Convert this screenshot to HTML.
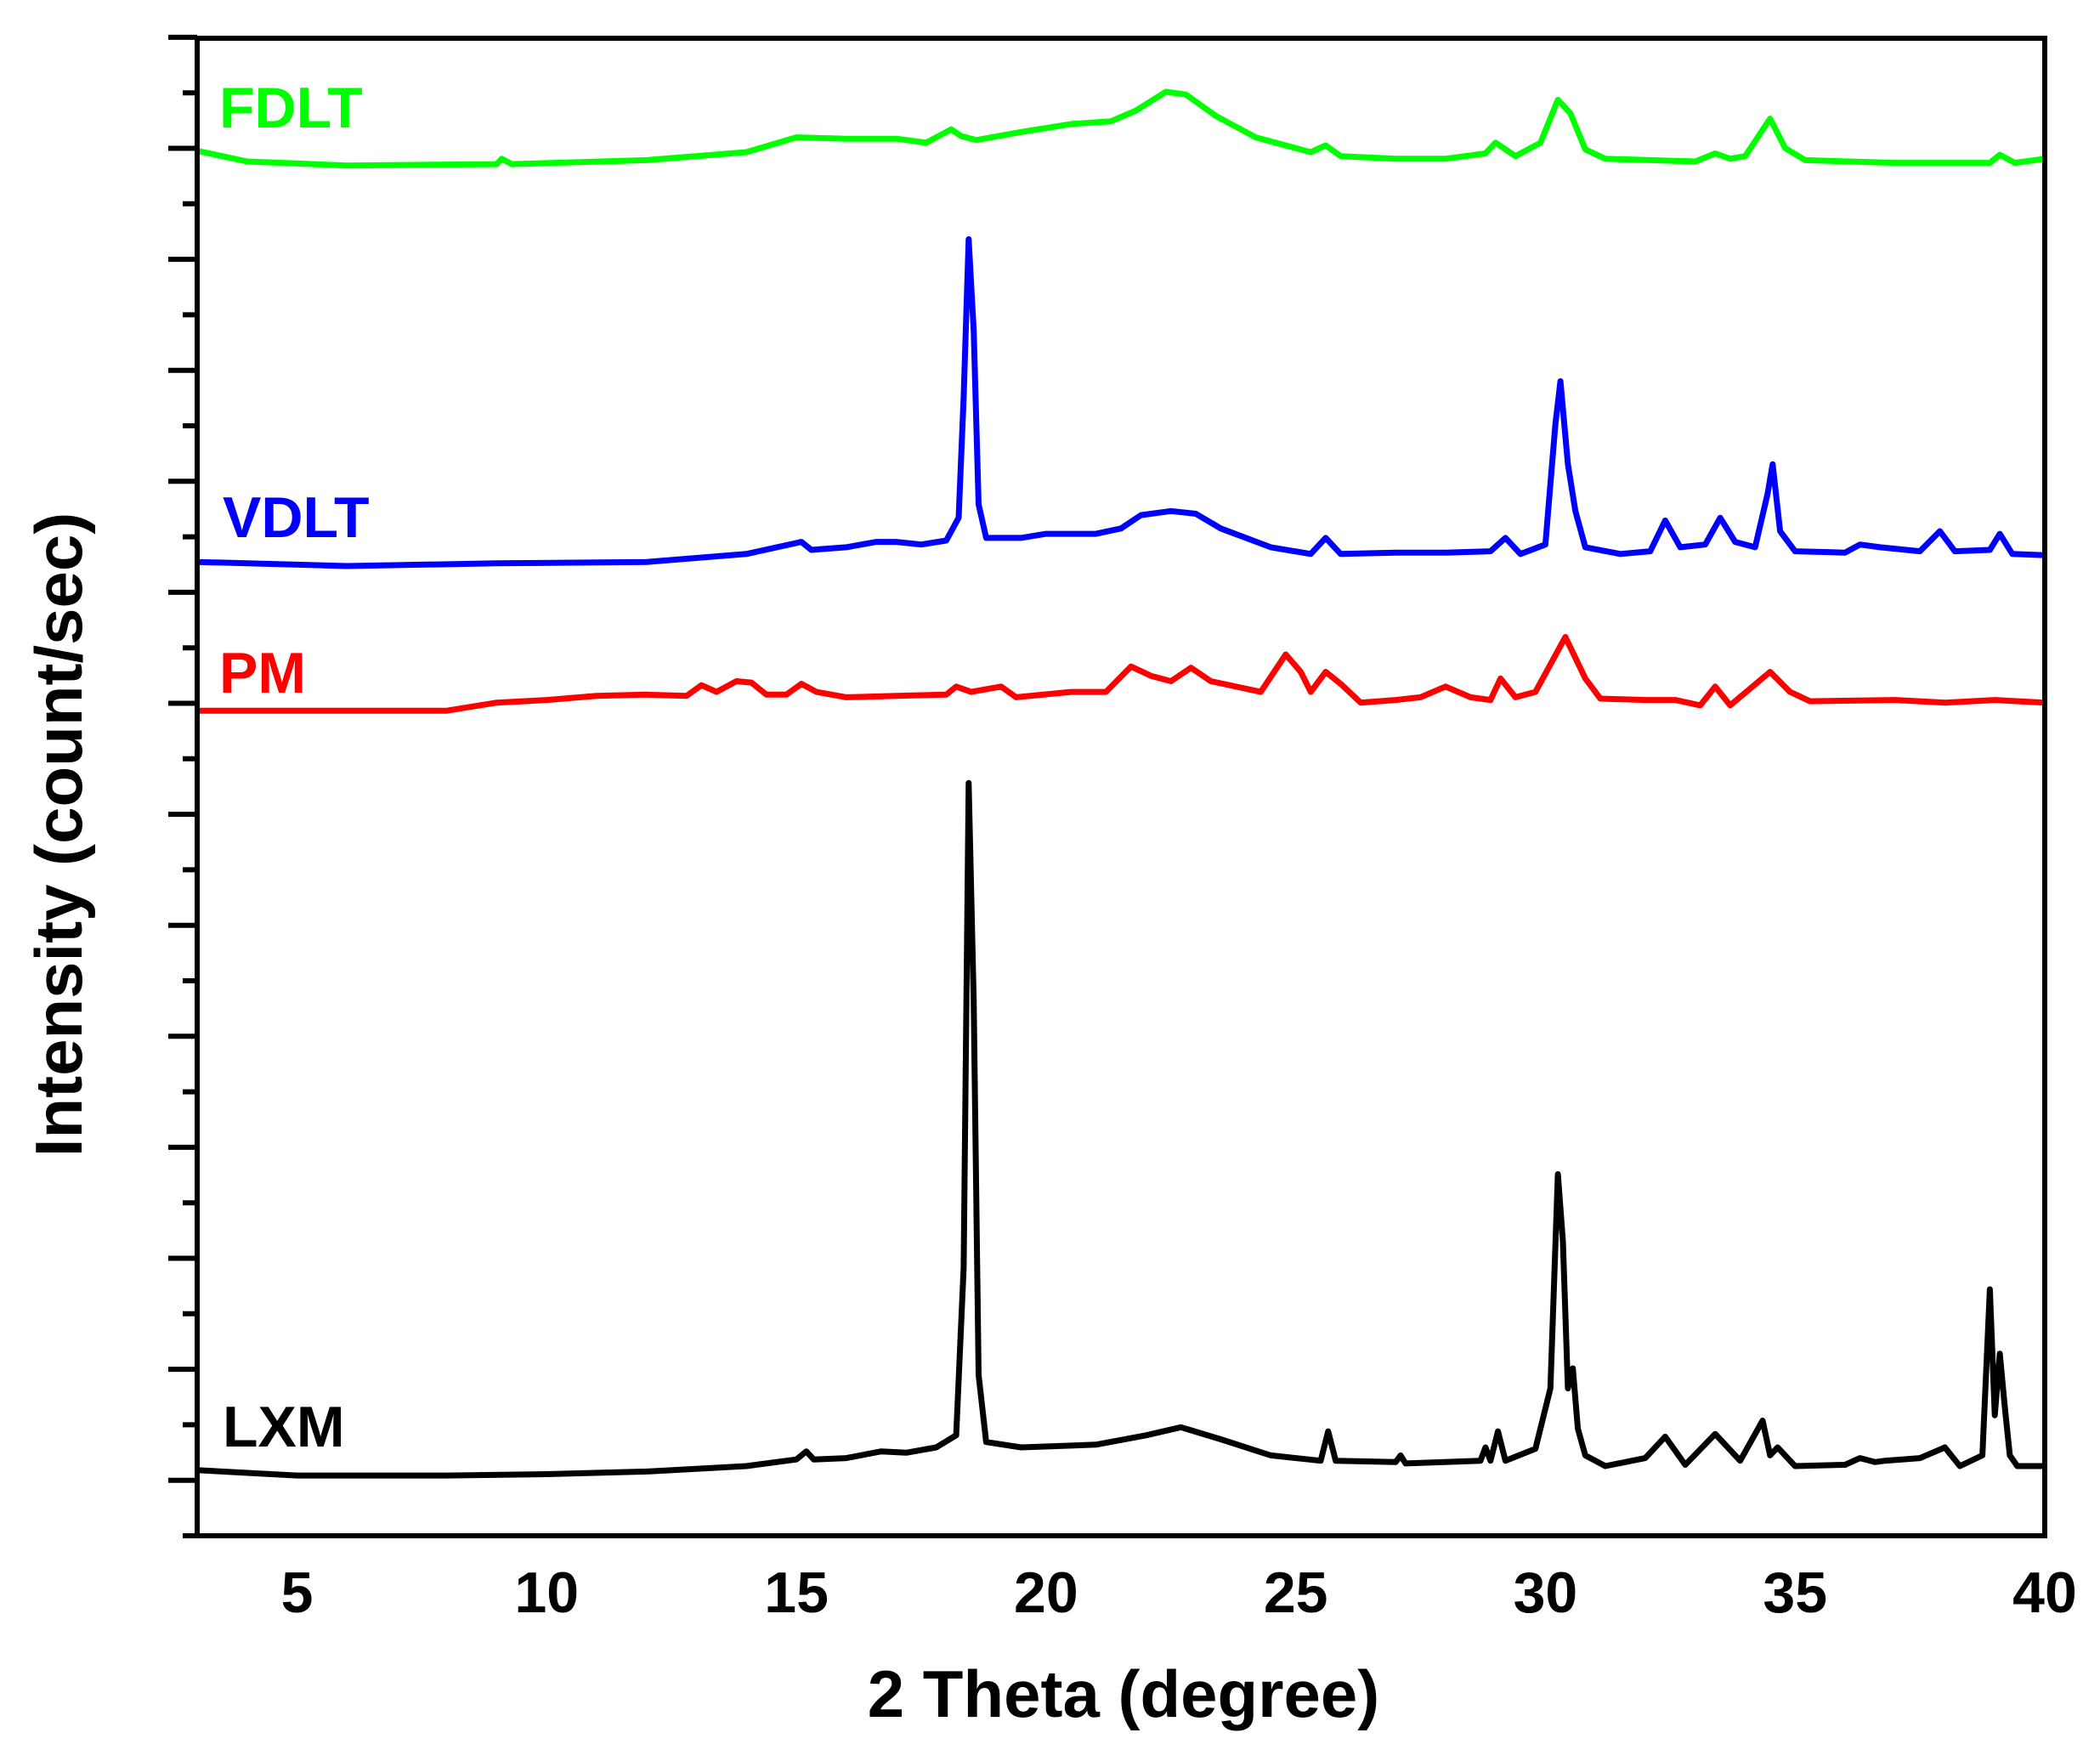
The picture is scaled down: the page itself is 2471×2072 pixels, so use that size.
<!DOCTYPE html>
<html><head><meta charset="utf-8"><style>
html,body{margin:0;padding:0;background:#fff;}
svg{display:block;font-family:"Liberation Sans",Arial,sans-serif;font-weight:bold;}
</style></head><body>
<svg id="chart" width="2471" height="2072" viewBox="0 0 2471 2072" xmlns="http://www.w3.org/2000/svg">
<g id="ticks"></g>
<g id="series"></g>
<rect x="232" y="45" width="2174" height="1762" fill="none" stroke="#000" stroke-width="6"/>
<g id="xlabels" font-size="68" text-anchor="middle"></g>
<text x="1322" y="2020" font-size="78" text-anchor="middle">2 Theta (degree)</text>
<text transform="translate(96,982) rotate(-90)" font-size="78" text-anchor="middle">Intensity (count/sec)</text>
<text x="258" y="150" font-size="68" fill="#00ff00">FDLT</text>
<text x="262" y="632" font-size="68" fill="#0000ff">VDLT</text>
<text x="258" y="815" font-size="68" fill="#ff0000">PM</text>
<text x="262" y="1702" font-size="68" fill="#000">LXM</text>
</svg>
<script>
const xTicks=[5,10,15,20,25,30,35,40];
const lxmX=[3,5,8,10,12,14,15,15.2,15.35,16,16.7,17.2,17.8,18.2,18.35,18.45,18.55,18.65,18.8,19.5,21,22,22.7,23.5,24.5,25.5,25.65,25.8,27,27.1,27.2,28.7,28.8,28.9,29.05,29.2,29.8,30.1,30.25,30.35,30.45,30.55,30.65,30.8,31.2,32,32.4,32.8,33.4,33.9,34.35,34.5,34.65,35,36,36.3,36.6,36.8,37.5,38,38.3,38.75,38.9,39.0,39.1,39.2,39.3,39.45,40];
const lxmY=[49,45,45,46,48,52,57,63,57,58,63,62,66,75,200,562,400,120,70,66,68,75,81,72,60,56,78,56,55,60,54,56,66,56,78,56,65,110,270,220,110,125,80,60,52,58,74,53,76,56,86,60,66,52,53,58,55,56,58,66,52,60,184,90,136,96,60,52,52];
const pmX=[3,8,9,10,11,12,12.8,13.1,13.4,13.8,14.1,14.4,14.8,15.1,15.4,16,17,18,18.2,18.5,18.8,19.1,19.4,20.5,21.2,21.7,22.1,22.5,22.9,23.3,24.3,24.8,25.1,25.3,25.6,25.9,26.3,27,27.5,28,28.5,28.9,29.1,29.4,29.8,30.4,30.8,31.1,32,32.6,33.1,33.4,33.7,34.5,34.9,35.3,37,38,39,40];
const pmY=[616,616,622,624,627,628,627,635,630,638,637,628,628,636,630,626,627,628,634,630,632,634,626,630,630,649,642,638,648,638,630,658,645,630,645,636,622,624,626,634,626,624,640,626,630,671,640,625,624,624,620,634,620,645,630,623,624,622,624,622];
const vdX=[3,6,9,12,14,15.1,15.3,16,16.6,17,17.5,18,18.25,18.35,18.45,18.55,18.65,18.8,19.5,20,21,21.5,21.9,22.5,23,23.5,24.5,25.3,25.6,25.9,27,28,28.9,29.2,29.5,30.0,30.2,30.3,30.45,30.6,30.8,31.5,32.1,32.4,32.7,33.2,33.5,33.8,34.2,34.45,34.55,34.7,35,36,36.3,36.7,37.5,37.9,38.2,38.9,39.1,39.35,40];
const vdY=[727,724,726,727,733,742,736,738,742,742,740,743,760,850,968,900,770,745,745,748,748,752,762,765,763,752,738,733,745,733,734,734,735,745,733,740,830,862,800,765,738,733,735,758,738,740,760,742,738,778,800,750,735,734,740,738,735,750,735,736,748,733,732];
const fdX=[3,4,6,9,9.1,9.3,12,14,15,16,17,17.6,18.1,18.3,18.6,19.5,20.5,21.3,21.8,22.4,22.8,23.4,24.2,25.3,25.6,25.9,27,28,28.8,29.0,29.4,29.9,30.25,30.5,30.8,31.2,33,33.4,33.7,34,34.5,34.8,35.2,37,38.9,39.1,39.4,40];
const fdY=[1034,1026,1023,1024,1028,1024,1027,1033,1044,1043,1043,1040,1050,1045,1042,1048,1054,1056,1064,1078,1076,1060,1044,1033,1038,1030,1028,1028,1032,1040,1030,1040,1072,1062,1035,1028,1026,1032,1028,1030,1058,1036,1027,1025,1025,1031,1025,1028];
const X0=232,X1=2406,Y0=1807,Y1=45,xMin=3,xMax=40,vMax=1118;
function sx(v){return X0+(v-xMin)/(xMax-xMin)*(X1-X0);}
function sy(v){return Y0-v/vMax*(Y0-Y1);}
const NS='http://www.w3.org/2000/svg';
const sg=document.getElementById('series');
function addSeries(xs,ys,color,name){
  const p=document.createElementNS(NS,'path');
  
  
  p.setAttribute('d',xs.map((x,i)=>(i?'L':'M')+sx(x).toFixed(1)+' '+sy(ys[i]).toFixed(1)).join(' '));
  p.setAttribute('fill','none');p.setAttribute('stroke',color);p.setAttribute('stroke-width','7');p.setAttribute('stroke-linejoin','round');
  sg.appendChild(p);
}
addSeries(lxmX,lxmY,'#000','series-lxm');
addSeries(pmX,pmY,'#ff0000','series-pm');
addSeries(vdX,vdY,'#0000ff','series-vdlt');
addSeries(fdX,fdY,'#00ff00','series-fdlt');
const tg=document.getElementById('ticks');
for(let k=0;k<=27;k++){
  const y=Y0-k*65.3; if(y<Y1-2)break;
  const major=(k%2===1);
  const l=document.createElementNS(NS,'line');
  
  
  l.setAttribute('x1',major?198:215);l.setAttribute('x2',232);
  l.setAttribute('y1',y);l.setAttribute('y2',y);
  l.setAttribute('stroke','#000');l.setAttribute('stroke-width','6');
  tg.appendChild(l);
}
const xg=document.getElementById('xlabels');
xTicks.forEach(t=>{
  const tx=document.createElementNS(NS,'text');
  
  
  tx.setAttribute('x',sx(t));tx.setAttribute('y',1897);
  tx.textContent=t;xg.appendChild(tx);
});
</script>
</body></html>
